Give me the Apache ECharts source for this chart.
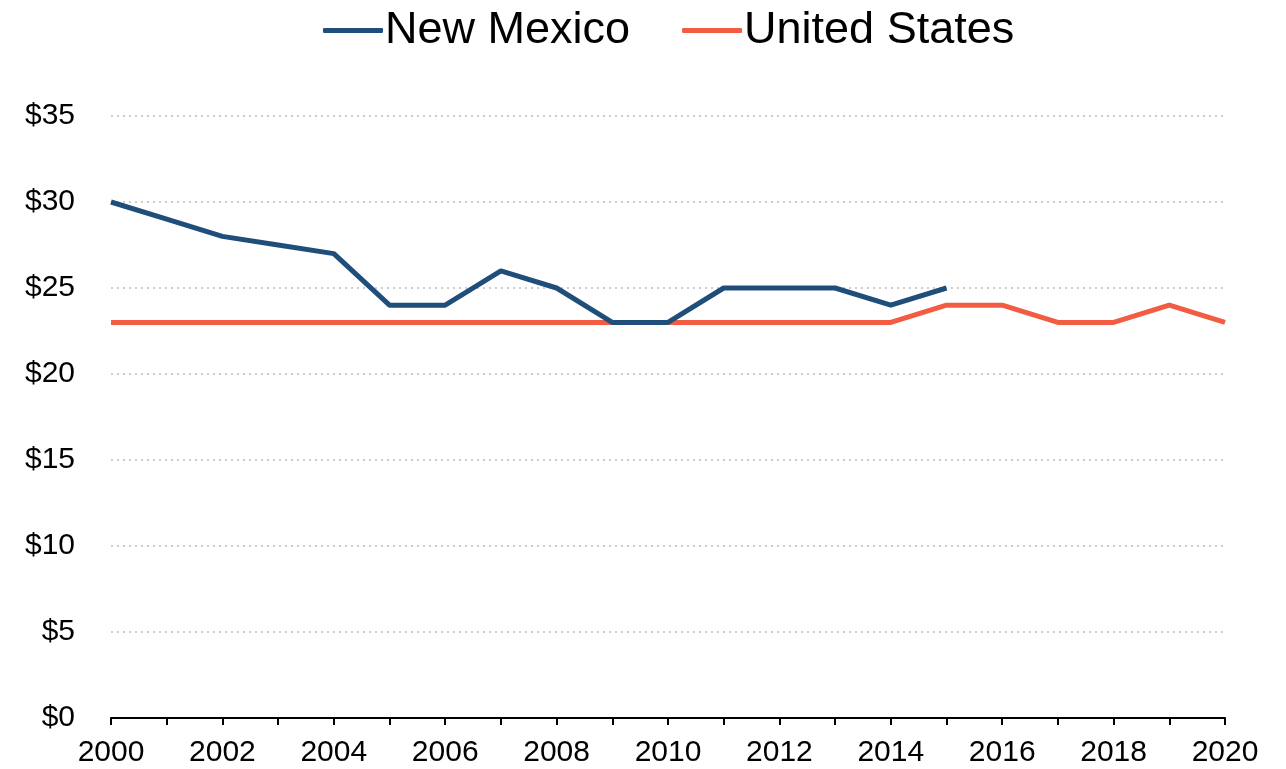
<!DOCTYPE html>
<html>
<head>
<meta charset="utf-8">
<script src="https://cdn.jsdelivr.net/npm/echarts@6/dist/echarts.min.js"></script>
<style>
  html, body { margin: 0; padding: 0; background: #fff; }
  #main { width: 1286px; height: 769px; }
</style>
</head>
<body>
<div id="main"></div>
<script>
var years = ['2000', '2001', '2002', '2003', '2004', '2005', '2006', '2007', '2008', '2009', '2010',
  '2011', '2012', '2013', '2014', '2015', '2016', '2017', '2018', '2019', '2020'];
var newMexico = [30, 29, 28, 27.5, 27, 24, 24, 26, 25, 23, 23, 25, 25, 25, 24, 25,
  null, null, null, null, null];
var unitedStates = [23, 23, 23, 23, 23, 23, 23, 23, 23, 23, 23, 23, 23, 23, 23, 24, 24, 23, 23, 24, 23];

var chart = echarts.init(document.getElementById('main'));
var font = "'Liberation Sans', Arial, sans-serif";

chart.setOption({
  animation: false,
  legend: {
    top: 3,
    left: 318,
    itemWidth: 60,
    itemHeight: 5,
    itemGap: 52,
    icon: 'roundRect',
    textStyle: { fontFamily: font, fontSize: 45, color: '#000', padding: [0, 0, 0, -3] },
    data: ['New Mexico', 'United States']
  },
  grid: { left: 111, right: 61, top: 116, bottom: 51 },
  xAxis: {
    type: 'category',
    boundaryGap: false,
    data: years,
    axisLine: { lineStyle: { color: '#000', width: 2 } },
    axisTick: { interval: 0, length: 7, lineStyle: { color: '#000', width: 2 } },
    axisLabel: { interval: 1, margin: 20, fontFamily: font, fontSize: 30, color: '#000' },
    splitLine: { show: false }
  },
  yAxis: {
    type: 'value',
    min: 0,
    max: 35,
    interval: 5,
    axisLine: { show: false },
    axisTick: { show: false },
    axisLabel: {
      margin: 36, fontFamily: font, fontSize: 30, color: '#000',
      formatter: function (v) { return '$' + v; }
    },
    splitLine: { lineStyle: { color: '#cccccc', width: 2, type: [2, 4] } }
  },
  series: [
    {
      name: 'New Mexico',
      type: 'line',
      data: newMexico,
      symbol: 'none',
      lineStyle: { color: '#1f4e7a', width: 5 },
      itemStyle: { color: '#1f4e7a' },
      z: 3
    },
    {
      name: 'United States',
      type: 'line',
      data: unitedStates,
      symbol: 'none',
      lineStyle: { color: '#f25c43', width: 5 },
      itemStyle: { color: '#f25c43' },
      z: 2
    }
  ]
});
</script>
</body>
</html>
